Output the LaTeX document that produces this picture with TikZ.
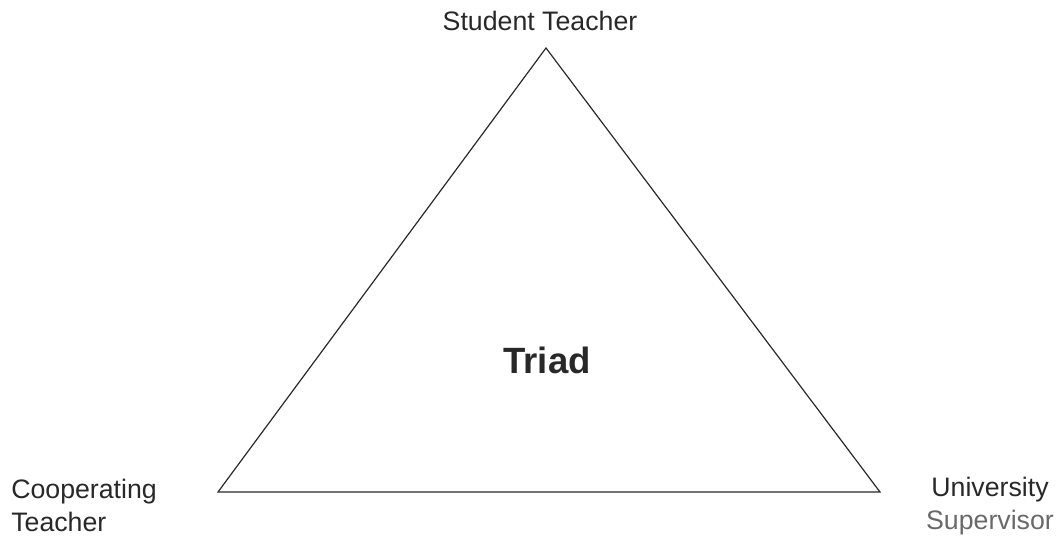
\documentclass[tikz,border=0pt]{standalone}
\usepackage{fontspec}
\setmainfont{Liberation Sans}
\usetikzlibrary{positioning}
\definecolor{triadgray}{RGB}{40, 40, 40}

\tikzset{
    rolelabel/.style={inner sep=0pt, text=triadgray, font=\fontsize{19}{23.5}\selectfont},
    triadside/.style={draw=triadgray, line width=0.85pt, line join=miter}
}

\begin{document}
\begin{tikzpicture}[x=0.025cm, y=-0.025cm]
        \useasboundingbox (0,0) rectangle (1060,536);
        \coordinate (apex) at (546,48);
        \coordinate (leftcorner) at (218,492);
        \coordinate (rightcorner) at (880,492);
        \draw[triadside] (apex) -- (leftcorner) -- (rightcorner) -- cycle;
        \node[rolelabel, anchor=base] (student) at (540,31) {Student Teacher};
        \node[rolelabel, anchor=north west, align=left] (cooperating) at (11,479)
            {Cooperating\\Teacher};
        \node[rolelabel, anchor=north, align=center] (supervisor) at (990,477)
            {University\\\textcolor{triadgray!70}{Supervisor}};
        \node[inner sep=0pt, text=triadgray, font=\fontsize{26}{30}\selectfont\bfseries,
              anchor=base] (triad) at (547,374) {Triad};
    \end{tikzpicture}
\end{document}
